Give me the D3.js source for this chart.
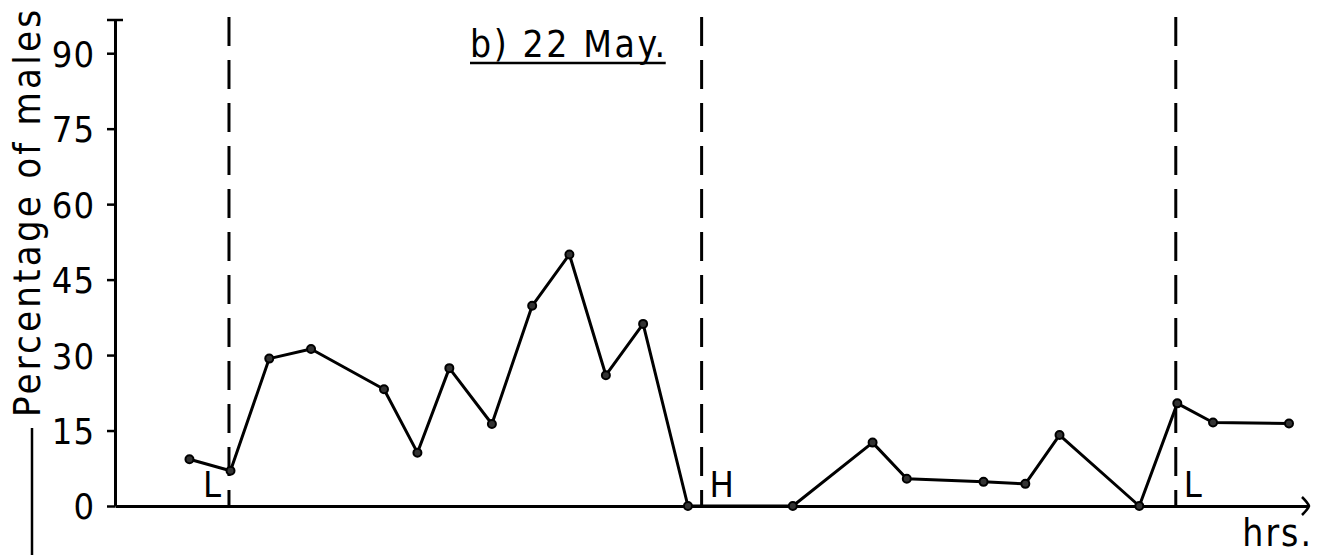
<!DOCTYPE html>
<html>
<head>
<meta charset="utf-8">
<script src="https://cdn.jsdelivr.net/npm/d3@7"></script>
<style>
  body { margin: 0; background: #fff; }
  svg { display: block; }
  text { font-family: "DejaVu Sans Condensed", "DejaVu Sans", sans-serif; fill: #000; }
</style>
</head>
<body>
<div id="chart"></div>
<script>
// hours since start of record
const hours = [0.98, 1.52, 2.03, 2.58, 3.54, 3.98, 4.40, 4.96, 5.49, 5.98, 6.46, 6.95, 7.54,
               8.92, 9.97, 10.42, 11.43, 11.98, 12.43, 13.48, 13.98, 14.45, 15.45];
// percentage of males at each reading
const percent = [9.3, 7.0, 29.3, 31.2, 23.2, 10.6, 27.4, 16.3, 39.8, 50.0, 26.0, 36.2, 0,
                 0, 12.6, 5.4, 4.8, 4.4, 14.1, 0, 20.4, 16.6, 16.4];
// low / high tide times
const tideHours = [1.5, 7.72, 13.96];
const tideLabels = ["L", "H", "L"];
const yTicks = [0, 15, 30, 45, 60, 75, 90];

var width = 1323,
    height = 555;

var svg = d3.select("#chart").append("svg")
    .attr("width", width)
    .attr("height", height);

var x = d3.scaleLinear()
    .domain([0, 15.7])
    .range([115, 1308]);

var y = d3.scaleLinear()
    .domain([0, 96.6])
    .range([506, 20]);

// y axis with ticks on the left
var yAxis = svg.append("g")
    .attr("transform", "translate(" + x(0) + ",0)")
    .call(d3.axisLeft(y).tickValues(yTicks).tickSize(8).tickSizeOuter(0).tickPadding(12));
yAxis.select(".domain").attr("stroke", "#000").attr("stroke-width", 3);
yAxis.selectAll(".tick line").attr("stroke", "#000").attr("stroke-width", 2.5);
yAxis.selectAll(".tick text")
    .attr("font-family", "DejaVu Sans Condensed, DejaVu Sans, sans-serif")
    .attr("font-size", 36)
    .attr("letter-spacing", 1)
    .attr("dy", "0.36em");

// little serif on top of the y axis
svg.append("line")
    .attr("x1", x(0) - 8).attr("x2", x(0) + 8)
    .attr("y1", y.range()[1]).attr("y2", y.range()[1])
    .attr("stroke", "#000").attr("stroke-width", 2.5);

// x axis, no ticks
var xAxis = svg.append("g")
    .attr("transform", "translate(0," + y(0) + ")")
    .call(d3.axisBottom(x).tickValues([]).tickSizeOuter(0));
xAxis.select(".domain").attr("stroke", "#000").attr("stroke-width", 3);

// open arrow head at the end of the x axis
var xe = x.range()[1];
svg.append("path")
    .attr("d", "M" + (xe - 6) + "," + (y(0) - 9) + " Q" + (xe) + "," + (y(0) - 3) + " " + (xe + 1) + "," + y(0) +
               " Q" + (xe) + "," + (y(0) + 3) + " " + (xe - 6) + "," + (y(0) + 9))
    .attr("fill", "none").attr("stroke", "#000").attr("stroke-width", 2.5);

// dashed tide lines
svg.append("g").selectAll("line")
    .data(tideHours)
    .enter().append("line")
    .attr("x1", d => x(d)).attr("x2", d => x(d))
    .attr("y1", 17).attr("y2", y(0))
    .attr("stroke", "#000")
    .attr("stroke-width", 3)
    .attr("stroke-dasharray", "29,14");

// tide labels, first one sits left of its line
svg.append("g").selectAll("text")
    .data(tideLabels)
    .enter().append("text")
    .attr("x", (d, i) => i == 0 ? x(tideHours[i]) - 8 : x(tideHours[i]) + 8)
    .attr("y", 497)
    .attr("text-anchor", (d, i) => i == 0 ? "end" : "start")
    .attr("font-size", 36)
    .text(d => d);

// the data line
var line = d3.line()
    .x((d, i) => x(hours[i]))
    .y(d => y(d));

svg.append("path")
    .datum(percent)
    .attr("d", line)
    .attr("fill", "none")
    .attr("stroke", "#000")
    .attr("stroke-width", 3)
    .attr("stroke-linejoin", "round");

svg.append("g").selectAll("circle")
    .data(percent)
    .enter().append("circle")
    .attr("cx", (d, i) => x(hours[i]))
    .attr("cy", d => y(d))
    .attr("r", 4)
    .attr("fill", "#333")
    .attr("stroke", "#000")
    .attr("stroke-width", 2);

// title, underlined
var title = svg.append("text")
    .attr("x", 470)
    .attr("y", 57)
    .attr("font-size", 37)
    .attr("letter-spacing", 2.6)
    .text("b) 22 May.");
var tw = title.node().getComputedTextLength();
svg.append("line")
    .attr("x1", 470).attr("x2", 470 + tw - 2)
    .attr("y1", 63).attr("y2", 63)
    .attr("stroke", "#000").attr("stroke-width", 2.5);

// y axis label
svg.append("text")
    .attr("transform", "translate(40,417) rotate(-90)")
    .attr("font-size", 38)
    .attr("letter-spacing", 3.2)
    .text("Percentage of males");

// rule under the label
svg.append("line")
    .attr("x1", 32).attr("x2", 32)
    .attr("y1", 428).attr("y2", 555)
    .attr("stroke", "#000").attr("stroke-width", 2.5);

// x axis unit
svg.append("text")
    .attr("x", 1313)
    .attr("y", 546)
    .attr("text-anchor", "end")
    .attr("font-size", 37)
    .attr("letter-spacing", 2)
    .text("hrs.");
</script>
</body>
</html>
